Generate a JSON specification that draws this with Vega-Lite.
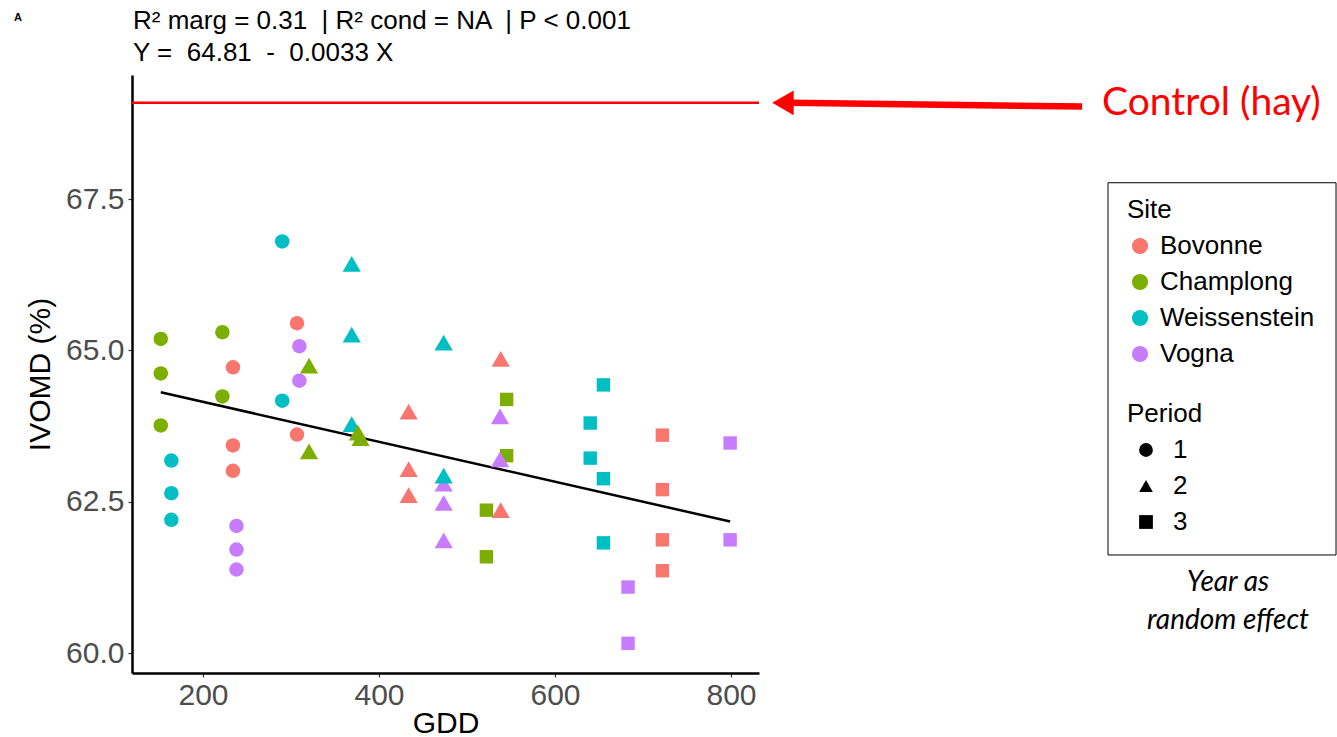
{
  "$schema": "https://vega.github.io/schema/vega-lite/v6.json",
  "width": 627,
  "height": 598,
  "autosize": {"type": "none"},
  "padding": {"left": 132, "top": 75, "right": 578, "bottom": 64},
  "background": "white",
  "datasets": {
    "points": [
      {"Site": "Champlong", "Period": 3, "GDD": 545, "IVOMD": 64.19},
      {"Site": "Champlong", "Period": 3, "GDD": 545, "IVOMD": 63.26},
      {"Site": "Champlong", "Period": 3, "GDD": 522, "IVOMD": 62.36},
      {"Site": "Champlong", "Period": 3, "GDD": 522, "IVOMD": 61.59},
      {"Site": "Bovonne", "Period": 1, "GDD": 306.8, "IVOMD": 65.45},
      {"Site": "Bovonne", "Period": 1, "GDD": 234, "IVOMD": 64.72},
      {"Site": "Bovonne", "Period": 1, "GDD": 306.8, "IVOMD": 63.61},
      {"Site": "Bovonne", "Period": 1, "GDD": 234, "IVOMD": 63.43},
      {"Site": "Bovonne", "Period": 1, "GDD": 234, "IVOMD": 63.01},
      {"Site": "Bovonne", "Period": 2, "GDD": 433.7, "IVOMD": 63.99},
      {"Site": "Bovonne", "Period": 2, "GDD": 433.7, "IVOMD": 63.04},
      {"Site": "Bovonne", "Period": 2, "GDD": 433.7, "IVOMD": 62.61},
      {"Site": "Bovonne", "Period": 2, "GDD": 538.3, "IVOMD": 64.86},
      {"Site": "Bovonne", "Period": 2, "GDD": 538.3, "IVOMD": 62.36},
      {"Site": "Bovonne", "Period": 3, "GDD": 722, "IVOMD": 63.6},
      {"Site": "Bovonne", "Period": 3, "GDD": 722, "IVOMD": 62.7},
      {"Site": "Bovonne", "Period": 3, "GDD": 722, "IVOMD": 61.87},
      {"Site": "Bovonne", "Period": 3, "GDD": 722, "IVOMD": 61.36},
      {"Site": "Vogna", "Period": 1, "GDD": 309.5, "IVOMD": 65.07},
      {"Site": "Vogna", "Period": 1, "GDD": 309.5, "IVOMD": 64.5},
      {"Site": "Vogna", "Period": 1, "GDD": 238, "IVOMD": 62.1},
      {"Site": "Vogna", "Period": 1, "GDD": 238, "IVOMD": 61.71},
      {"Site": "Vogna", "Period": 1, "GDD": 238, "IVOMD": 61.38},
      {"Site": "Vogna", "Period": 2, "GDD": 473.5, "IVOMD": 62.8},
      {"Site": "Vogna", "Period": 2, "GDD": 473.5, "IVOMD": 62.48},
      {"Site": "Vogna", "Period": 2, "GDD": 473.5, "IVOMD": 61.86},
      {"Site": "Vogna", "Period": 2, "GDD": 537.5, "IVOMD": 63.91},
      {"Site": "Vogna", "Period": 2, "GDD": 537.5, "IVOMD": 63.2},
      {"Site": "Vogna", "Period": 3, "GDD": 799, "IVOMD": 63.47},
      {"Site": "Vogna", "Period": 3, "GDD": 799, "IVOMD": 61.87},
      {"Site": "Vogna", "Period": 3, "GDD": 683, "IVOMD": 61.09},
      {"Site": "Vogna", "Period": 3, "GDD": 683, "IVOMD": 60.16},
      {"Site": "Weissenstein", "Period": 1, "GDD": 290, "IVOMD": 66.8},
      {"Site": "Weissenstein", "Period": 1, "GDD": 290, "IVOMD": 64.17},
      {"Site": "Weissenstein", "Period": 1, "GDD": 164, "IVOMD": 63.18},
      {"Site": "Weissenstein", "Period": 1, "GDD": 164, "IVOMD": 62.64},
      {"Site": "Weissenstein", "Period": 1, "GDD": 164, "IVOMD": 62.2},
      {"Site": "Weissenstein", "Period": 2, "GDD": 369, "IVOMD": 66.43},
      {"Site": "Weissenstein", "Period": 2, "GDD": 369, "IVOMD": 65.26},
      {"Site": "Weissenstein", "Period": 2, "GDD": 369, "IVOMD": 63.78},
      {"Site": "Weissenstein", "Period": 2, "GDD": 473.5, "IVOMD": 65.13},
      {"Site": "Weissenstein", "Period": 2, "GDD": 473.5, "IVOMD": 62.93},
      {"Site": "Weissenstein", "Period": 3, "GDD": 655, "IVOMD": 64.43},
      {"Site": "Weissenstein", "Period": 3, "GDD": 640, "IVOMD": 63.8},
      {"Site": "Weissenstein", "Period": 3, "GDD": 640, "IVOMD": 63.22},
      {"Site": "Weissenstein", "Period": 3, "GDD": 655, "IVOMD": 62.88},
      {"Site": "Weissenstein", "Period": 3, "GDD": 655, "IVOMD": 61.82},
      {"Site": "Champlong", "Period": 1, "GDD": 152, "IVOMD": 65.19},
      {"Site": "Champlong", "Period": 1, "GDD": 152, "IVOMD": 64.62},
      {"Site": "Champlong", "Period": 1, "GDD": 152, "IVOMD": 63.76},
      {"Site": "Champlong", "Period": 1, "GDD": 222, "IVOMD": 65.3},
      {"Site": "Champlong", "Period": 1, "GDD": 222, "IVOMD": 64.24},
      {"Site": "Champlong", "Period": 2, "GDD": 320.5, "IVOMD": 64.75},
      {"Site": "Champlong", "Period": 2, "GDD": 320.5, "IVOMD": 63.33},
      {"Site": "Champlong", "Period": 2, "GDD": 376, "IVOMD": 63.64},
      {"Site": "Champlong", "Period": 2, "GDD": 379, "IVOMD": 63.55}
    ],
    "fit": [
      {"GDD": 152, "IVOMD": 64.308},
      {"GDD": 799, "IVOMD": 62.173}
    ],
    "control": [
      {"label": "Control (hay)", "IVOMD": 69.09}
    ],
    "titles": [
      {"t": "R² marg = 0.31 \u00a0| R² cond = NA \u00a0| P < 0.001", "y": 70.446},
      {"t": "Y = \u00a064.81 \u00a0- \u00a00.0033 X", "y": 69.917}
    ]
  },
  "layer": [
    {
      "data": {"name": "control"},
      "mark": {"type": "rule", "color": "#ff0000", "strokeWidth": 2.5},
      "encoding": {
        "y": {"field": "IVOMD", "type": "quantitative",
              "scale": {"domain": [59.67, 69.55], "nice": false, "zero": false},
              "axis": {"values": [60, 62.5, 65, 67.5], "format": ".1f", "title": "IVOMD (%)", "titlePadding": 10, "labelPadding": 4}}
      }
    },
    {
      "data": {"name": "control"},
      "mark": {"type": "rule", "color": "#ff0000", "strokeWidth": 6.5, "clip": false},
      "encoding": {
        "x": {"datum": 866, "type": "quantitative"},
        "x2": {"datum": 1199},
        "y": {"datum": 69.09, "type": "quantitative"},
        "y2": {"datum": 69.03}
      }
    },
    {
      "data": {"name": "control"},
      "mark": {"type": "point", "shape": "triangle-left", "filled": true, "color": "#ff0000", "opacity": 1, "size": 620, "clip": false},
      "encoding": {
        "x": {"datum": 859, "type": "quantitative"},
        "y": {"datum": 69.09, "type": "quantitative"}
      }
    },
    {
      "data": {"name": "control"},
      "mark": {"type": "text", "color": "#ff0000", "font": "Lato", "fontSize": 39, "align": "left", "baseline": "middle", "clip": false},
      "encoding": {
        "text": {"field": "label"},
        "x": {"datum": 1221.6, "type": "quantitative"},
        "y": {"datum": 69.09, "type": "quantitative"}
      }
    },
    {
      "data": {"name": "titles"},
      "mark": {"type": "text", "color": "black", "font": "Liberation Sans", "fontSize": 26, "align": "left", "baseline": "middle", "clip": false},
      "encoding": {
        "text": {"field": "t"},
        "x": {"datum": 120.45, "type": "quantitative"},
        "y": {"field": "y", "type": "quantitative"}
      }
    },
    {
      "data": {"name": "control"},
      "mark": {"type": "rect", "fill": null, "fillOpacity": 0, "stroke": "black", "strokeWidth": 1, "clip": false},
      "encoding": {
        "x": {"datum": 1228.4, "type": "quantitative"},
        "x2": {"datum": 1487.5},
        "y": {"datum": 67.77, "type": "quantitative"},
        "y2": {"datum": 61.62}
      }
    },
    {
      "data": {"values": [{"t": "Year as", "y": 61.157}, {"t": "random effect", "y": 60.529}]},
      "mark": {"type": "text", "font": "Lato", "fontStyle": "italic", "fontSize": 28, "color": "black", "align": "center", "baseline": "middle", "clip": false},
      "encoding": {
        "text": {"field": "t"},
        "x": {"datum": 1364.8, "type": "quantitative"},
        "y": {"field": "y", "type": "quantitative"}
      }
    },
    {
      "data": {"values": [{"t": "A"}]},
      "mark": {"type": "text", "font": "Liberation Sans", "fontWeight": "bold", "fontSize": 11, "color": "black", "align": "center", "baseline": "middle", "clip": false},
      "encoding": {
        "text": {"field": "t"},
        "x": {"datum": -10.2, "type": "quantitative"},
        "y": {"datum": 70.5, "type": "quantitative"}
      }
    },
    {
      "data": {"name": "fit"},
      "mark": {"type": "line", "color": "black", "strokeWidth": 2.5},
      "encoding": {
        "x": {"field": "GDD", "type": "quantitative",
              "scale": {"domain": [119.3, 831.8], "nice": false, "zero": false},
              "axis": {"values": [200, 400, 600, 800], "title": "GDD", "titlePadding": -2, "labelPadding": 3}},
        "y": {"field": "IVOMD", "type": "quantitative"}
      }
    },
    {
      "data": {"name": "points"},
      "transform": [{"filter": "datum.Period == 3"}],
      "mark": {"type": "point", "filled": true, "opacity": 1, "strokeWidth": 0, "size": 180},
      "encoding": {
        "x": {"field": "GDD", "type": "quantitative"},
        "y": {"field": "IVOMD", "type": "quantitative"},
        "color": {"field": "Site", "type": "nominal"},
        "shape": {"field": "Period", "type": "nominal"}
      }
    },
    {
      "data": {"name": "points"},
      "transform": [{"filter": "datum.Period == 1"}],
      "mark": {"type": "point", "filled": true, "opacity": 1, "strokeWidth": 0, "size": 210},
      "encoding": {
        "x": {"field": "GDD", "type": "quantitative"},
        "y": {"field": "IVOMD", "type": "quantitative"},
        "color": {"field": "Site", "type": "nominal"},
        "shape": {"field": "Period", "type": "nominal"}
      }
    },
    {
      "data": {"name": "points"},
      "transform": [{"filter": "datum.Period == 2"}],
      "mark": {"type": "point", "filled": true, "opacity": 1, "strokeWidth": 0, "size": 330},
      "encoding": {
        "x": {"field": "GDD", "type": "quantitative"},
        "y": {"field": "IVOMD", "type": "quantitative"},
        "color": {
          "field": "Site", "type": "nominal",
          "scale": {"domain": ["Bovonne", "Champlong", "Weissenstein", "Vogna"], "range": ["#F8766D", "#7CAE00", "#00BFC4", "#C77CFF"]},
          "legend": {
            "orient": "none", "legendX": 995, "legendY": 122,
            "title": "Site", "symbolType": "circle", "symbolSize": 260,
            "symbolOffset": 0, "labelOffset": 7, "rowPadding": 10, "titlePadding": 10,
            "padding": 0
          }
        },
        "shape": {
          "field": "Period", "type": "nominal",
          "scale": {"domain": [1, 2, 3], "range": ["circle", "triangle-up", "square"]},
          "legend": {
            "orient": "none", "legendX": 995, "legendY": 326,
            "title": "Period", "symbolSize": 190, "symbolFillColor": "black", "symbolStrokeColor": "black", "symbolStrokeWidth": 0,
            "symbolOffset": 6, "labelOffset": 14, "rowPadding": 10, "titlePadding": 10,
            "padding": 0
          }
        }
      }
    }
  ],
  "config": {
    "view": {"stroke": null},
    "axis": {
      "grid": false,
      "domainColor": "black",
      "domainWidth": 2.5,
      "tickColor": "#333333",
      "tickSize": 4,
      "tickWidth": 1.2,
      "labelColor": "#4d4d4d",
      "labelFont": "Liberation Sans",
      "labelFontSize": 30,
      "titleFont": "Liberation Sans",
      "titleFontSize": 30,
      "titleFontWeight": "normal",
      "titleColor": "black"
    },
    "legend": {
      "titleFont": "Liberation Sans",
      "titleFontSize": 26,
      "titleFontWeight": "normal",
      "titleColor": "black",
      "labelFont": "Liberation Sans",
      "labelFontSize": 26,
      "labelColor": "black"
    }
  }
}
